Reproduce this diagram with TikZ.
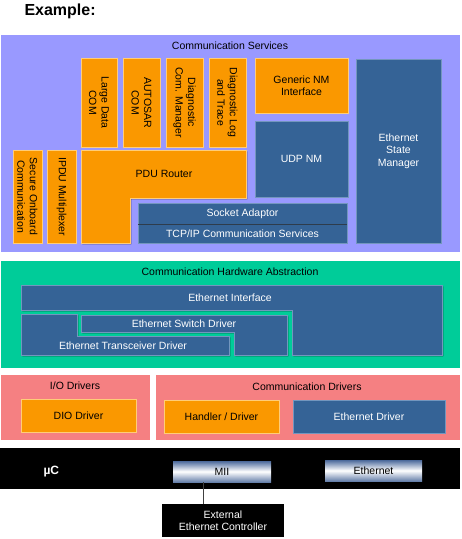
\documentclass[tikz,border=0pt]{standalone}
\usepackage{fontspec}
\setmainfont{Liberation Sans}
\usepackage{xcolor}
\usepackage{tikz}
\usetikzlibrary{shadows}

\definecolor{csback}{RGB}{153,153,255}
\definecolor{hwback}{RGB}{0,204,153}
\definecolor{drvback}{RGB}{245,128,130}
\definecolor{orgfill}{RGB}{250,152,0}
\definecolor{orgedge}{RGB}{255,205,120}
\definecolor{bluefill}{RGB}{53,99,150}
\definecolor{blueedge}{RGB}{115,150,190}
\definecolor{portedge}{RGB}{75,105,155}

\tikzset{
	obox/.style={draw=orgedge, fill=orgfill, line width=0.7pt, drop shadow={shadow xshift=1.4pt, shadow yshift=-1.4pt, opacity=0.45, fill=black}},
	bbox/.style={draw=blueedge, fill=bluefill, line width=0.7pt, drop shadow={shadow xshift=1.4pt, shadow yshift=-1.4pt, opacity=0.5, fill=black}},
	txt/.style={font=\fontsize{10.5}{12.5}\selectfont, align=center, inner sep=0pt},
	vtxt/.style={txt, rotate=-90},
	wtxt/.style={txt, text=white},
	portbox/.style={txt, top color=portedge, bottom color=portedge!85, middle color=white, minimum height=21pt},
}

\begin{document}
\begin{tikzpicture}[x=1pt, y=-1pt]
	\useasboundingbox (0,0) rectangle (462,539);
	\node[font=\bfseries\fontsize{16}{19}\selectfont, anchor=base west] (extitle) at (21,15) {Example:};

	\fill[csback] (1,35) rectangle (460,252);
	\node[txt] (cstitle) at (230,46) {Communication Services};
	\draw[obox] (81,58) rectangle (117,147);
	\node[vtxt] (ldcom) at (99,102.5) {Large Data\\COM};
	\draw[obox] (123,58) rectangle (160,147);
	\node[vtxt] (ascom) at (141.5,102.5) {AUTOSAR\\COM};
	\draw[obox] (166,58) rectangle (203,147);
	\node[vtxt] (dcm) at (184.5,102.5) {Diagnostic\\Com. Manager};
	\draw[obox] (209,58) rectangle (246,147);
	\node[vtxt] (dlt) at (227.5,102.5) {Diagnostic Log\\and Trace};
	\draw[obox] (255,58) rectangle (348,113);
	\node[txt] (gnm) at (301.5,85.5) {Generic NM\\Interface};
	\draw[bbox] (255,121) rectangle (348,197);
	\node[wtxt] (udpnm) at (301.5,159) {UDP NM};
	\draw[bbox] (356,59) rectangle (441,243);
	\node[wtxt] (ethsm) at (398.5,151) {Ethernet\\State\\Manager};
	\draw[obox] (13,150) rectangle (42,243);
	\node[vtxt] (secoc) at (27.5,196.5) {Secure Onboard\\Communication};
	\draw[obox] (47,150) rectangle (76,243);
	\node[vtxt] (ipdum) at (61.5,196.5) {IPDU Multiplexer};
	\draw[obox] (81,150) -- (246,150) -- (246,198) -- (130,198) -- (130,243) -- (81,243) -- cycle;
	\node[txt] (pdur) at (164,174) {PDU Router};
	\draw[bbox] (138,203) rectangle (347,243);
	\draw[blueedge!40!black, thin] (138,224) -- (347,224);
	\node[wtxt] (soad) at (242.5,213.5) {Socket Adaptor};
	\node[wtxt] (tcpip) at (242.5,233.5) {TCP/IP Communication Services};

	\fill[hwback] (1,261) rectangle (460,368);
	\node[txt] (hwtitle) at (230,272) {Communication Hardware Abstraction};
	\draw[bbox] (21,285) -- (442,285) -- (442,355) -- (292,355) -- (292,310) -- (21,310) -- cycle;
	\node[wtxt] (ethif) at (230,297.5) {Ethernet Interface};
	\draw[bbox] (21,314) -- (77,314) -- (77,336) -- (229,336) -- (229,355) -- (21,355) -- cycle;
	\node[wtxt] (ethtrcv) at (123,346) {Ethernet Transceiver Driver};
	\draw[bbox] (81,315) -- (287,315) -- (287,355) -- (234,355) -- (234,332) -- (81,332) -- cycle;
	\node[wtxt] (ethswt) at (184,323.5) {Ethernet Switch Driver};

	\fill[drvback] (1,375) rectangle (150,440);
	\node[txt] (iotitle) at (75,386) {I/O Drivers};
	\draw[obox] (21,399) rectangle (136,432);
	\node[txt] (dio) at (78.5,415.5) {DIO Driver};
	\fill[drvback] (156,375) rectangle (460,440);
	\node[txt] (cdtitle) at (307,387) {Communication Drivers};
	\draw[obox] (164,400) rectangle (279,433);
	\node[txt] (hdrv) at (221.5,416.5) {Handler / Driver};
	\draw[bbox] (293,400) rectangle (445,433);
	\node[wtxt] (ethdrv) at (369,416.5) {Ethernet Driver};

	\fill[black] (0,448) rectangle (460,489);
	\node[font=\bfseries\fontsize{12}{14}\selectfont, text=white, anchor=base west] (uc) at (40,474.5) {µC};
	\node[portbox, minimum width=98pt] (mii) at (222,471.5) {MII};
	\node[portbox, minimum width=97pt] (ethport) at (373.5,470.5) {Ethernet};
	\node[txt, fill=black, text=white, minimum width=122pt, minimum height=33pt] (extctrl) at (223,520.5) {External\\Ethernet Controller};
	\draw[black!75, thin] ([xshift=-19pt]mii.south) -- ([xshift=-19pt]mii.south |- extctrl.north);
\end{tikzpicture}
\end{document}
